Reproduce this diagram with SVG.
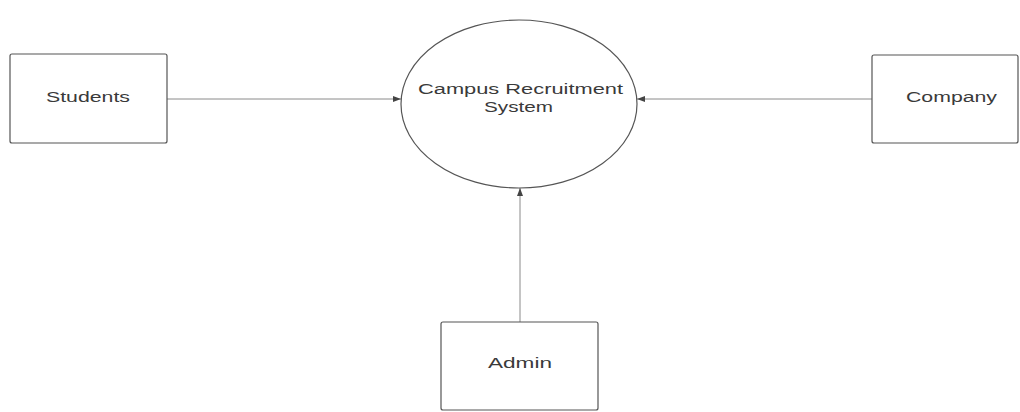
<svg xmlns="http://www.w3.org/2000/svg" width="1020" height="412" viewBox="0 0 1020 412">
<style>
.box{fill:#fff;stroke:#555;stroke-width:1.2}
.lbl{font-family:"Liberation Sans",Arial,sans-serif;font-size:15.5px;fill:#3a3a3a;text-anchor:middle}
.conn{stroke:#8a8a8a;stroke-width:1;fill:none;marker-end:url(#ah)}
</style>
<defs>
<marker id="ah" markerWidth="8" markerHeight="6" refX="8" refY="3" orient="auto" markerUnits="userSpaceOnUse">
<path d="M0,0 L8,3 L0,6 Z" fill="#444"/>
</marker>
</defs>
<rect width="1020" height="412" fill="#fff"/>
<g id="connectors">
<line class="conn" x1="167" y1="99" x2="401" y2="99"/>
<line class="conn" x1="872" y1="99" x2="637" y2="99"/>
<line class="conn" x1="520" y1="322" x2="520" y2="188"/>
</g>
<g id="students">
<rect class="box" x="10" y="54" width="157" height="89" rx="2"/>
<text class="lbl" x="88" y="102" textLength="84" lengthAdjust="spacingAndGlyphs">Students</text>
</g>
<g id="system">
<ellipse cx="519" cy="104" rx="118" ry="84" fill="#fff" stroke="#555" stroke-width="1.2"/>
<text class="lbl" x="520.5" y="94" textLength="205" lengthAdjust="spacingAndGlyphs">Campus Recruitment</text>
<text class="lbl" x="518.5" y="112" textLength="69" lengthAdjust="spacingAndGlyphs">System</text>
</g>
<g id="company">
<rect class="box" x="872" y="55" width="146" height="88" rx="2"/>
<text class="lbl" x="951.5" y="102" textLength="91" lengthAdjust="spacingAndGlyphs">Company</text>
</g>
<g id="admin">
<rect class="box" x="441" y="322" width="157" height="88" rx="2"/>
<text class="lbl" x="520" y="368" textLength="64" lengthAdjust="spacingAndGlyphs">Admin</text>
</g>
</svg>
